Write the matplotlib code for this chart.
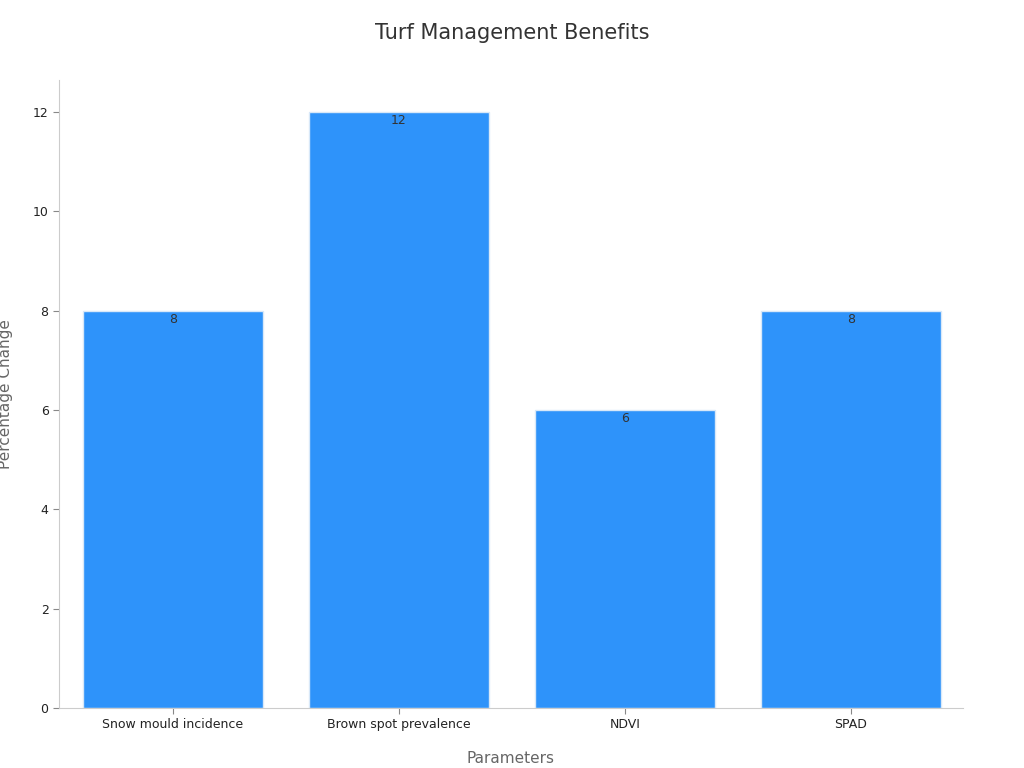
import matplotlib
matplotlib.use("Agg")
import matplotlib.pyplot as plt

categories = ["Snow mould incidence", "Brown spot prevalence", "NDVI", "SPAD"]
values = [8, 12, 6, 8]
yticks = [0, 2, 4, 6, 8, 10, 12]

fig = plt.figure(figsize=(10.24, 7.68), dpi=100)
ax = fig.add_axes([59/1024, 60/768, (963-59)/1024, (708-80)/768])
bars = ax.bar(range(len(categories)), values, width=0.8, color="#2E93FA",
              edgecolor="#d8e8f8", linewidth=1)
for b, v in zip(bars, values):
    ax.text(b.get_x() + b.get_width()/2, v - 0.05, str(v), ha="center", va="top",
            fontsize=9, color="#333333")
ax.set_xlim(-0.504, 3.496)
ax.set_ylim(0, 12.64)
ax.set_xticks(range(len(categories)))
ax.set_xticklabels(categories, fontsize=9, color="#222222")
ax.set_yticks(yticks)
ax.set_yticklabels([str(t) for t in yticks], fontsize=9, color="#222222")
ax.tick_params(colors="#888888", labelcolor="#222222", length=4)
for s in ["top", "right"]:
    ax.spines[s].set_visible(False)
for s in ["left", "bottom"]:
    ax.spines[s].set_color("#cccccc")
ax.set_xlabel("Parameters", fontsize=11, color="#666666", labelpad=14)
ax.set_ylabel("Percentage Change", fontsize=11, color="#666666", labelpad=14)
fig.text(0.5, 1 - 33/768, "Turf Management Benefits", ha="center", va="center",
         fontsize=15, color="#333333")
fig.savefig("out.png", dpi=100)
